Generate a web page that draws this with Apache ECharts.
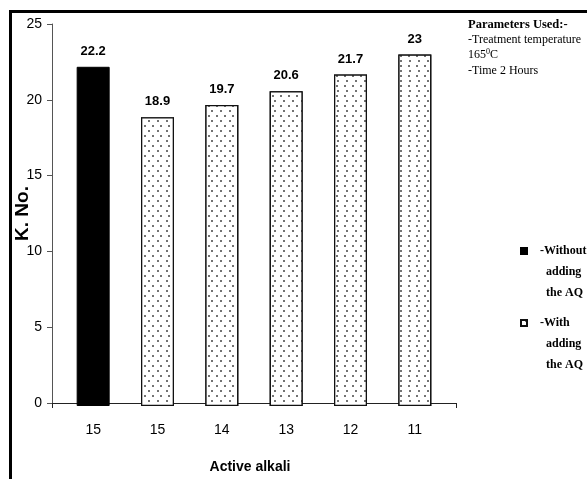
<!DOCTYPE html>
<html>
<head>
<meta charset="utf-8">
<script src="https://cdn.jsdelivr.net/npm/echarts@6/dist/echarts.min.js"></script>
<style>
  html, body { margin: 0; padding: 0; background: #fff; }
  #chart { width: 587px; height: 479px; }
</style>
</head>
<body>
<div id="chart"></div>
<script>
// Kappa number vs. active alkali charge
const categories = ['15', '15', '14', '13', '12', '11'];
const withoutAQ = [22.2, null, null, null, null, null];
const withAQ = [null, 18.9, 19.7, 20.6, 21.7, 23];
const yTicks = { min: 0, max: 25, interval: 5 };

const SANS = '"Liberation Sans Narrow", "Arial Narrow", "Liberation Sans", Arial, sans-serif';
const SERIF = '"Liberation Serif", "Times New Roman", serif';

const chart = echarts.init(document.getElementById('chart'), null, { renderer: 'canvas' });

const valueLabel = {
  show: true,
  position: 'top',
  distance: 9,
  fontFamily: SANS,
  fontWeight: 'bold',
  fontSize: 13,
  color: '#000'
};

// Legend text: two blank lead lines keep the first text line level with the swatch
const legendBase = {
  orient: 'vertical',
  left: 520,
  padding: 0,
  icon: 'rect',
  itemWidth: 6,
  itemHeight: 6,
  selectedMode: false,
  textStyle: {
    fontFamily: SERIF,
    fontWeight: 'bold',
    fontSize: 12,
    color: '#000',
    lineHeight: 21,
    padding: [0, 0, 0, 8]
  }
};

chart.setOption({
  animation: false,
  backgroundColor: '#fff',
  title: {
    left: 468,
    top: 17,
    padding: 0,
    text: '{b|Parameters Used:-}\n{r|-Treatment temperature}\n{r|165}{s|0}{r|C}\n{r|-Time 2 Hours}',
    textStyle: {
      rich: {
        b: { fontFamily: SERIF, fontWeight: 'bold', fontSize: 12.5, color: '#000', lineHeight: 15 },
        r: { fontFamily: SERIF, fontWeight: 'normal', fontSize: 12, color: '#000', lineHeight: 15.5 },
        s: { fontFamily: SERIF, fontWeight: 'normal', fontSize: 8, color: '#000', lineHeight: 15.5, verticalAlign: 'top', padding: [0, 0, 6, 0] }
      }
    }
  },
  legend: [
    Object.assign({}, legendBase, {
      top: 198.5,
      data: ['Without adding the AQ'],
      formatter: () => '\n\n-Without\n  adding\n  the AQ'
    }),
    Object.assign({}, legendBase, {
      top: 270.5,
      data: ['With adding the AQ'],
      formatter: () => '\n\n-With\n  adding\n  the AQ'
    })
  ],
  grid: [
    // axis frame
    { left: 52, right: 131, top: 24, bottom: 73 },
    // bar area (categories inset from the axis ends)
    { left: 61, right: 140, top: 24, bottom: 73 }
  ],
  xAxis: [
    {
      gridIndex: 0,
      type: 'value',
      min: 0,
      max: 1,
      interval: 1,
      axisLine: { show: true, lineStyle: { color: '#222', width: 1 } },
      axisTick: { show: true, length: 5, lineStyle: { color: '#222' } },
      axisLabel: { show: false },
      splitLine: { show: false },
      name: 'Active alkali',
      nameLocation: 'middle',
      nameGap: 57,
      nameMoveOverlap: false,
      nameTextStyle: { fontFamily: SANS, fontWeight: 'bold', fontSize: 14, color: '#000', padding: [0, 8, 0, 0] }
    },
    {
      gridIndex: 1,
      type: 'category',
      data: categories,
      axisLine: { show: false },
      axisTick: { show: false },
      axisLabel: { margin: 17, fontFamily: SANS, fontSize: 14, color: '#000' }
    }
  ],
  yAxis: [
    {
      gridIndex: 0,
      type: 'value',
      min: yTicks.min,
      max: yTicks.max,
      interval: yTicks.interval,
      axisLine: { show: true, lineStyle: { color: '#555', width: 1 } },
      axisTick: { show: true, length: 5, inside: false, lineStyle: { color: '#555' } },
      axisLabel: { margin: 10, fontFamily: SANS, fontSize: 14, color: '#000' },
      splitLine: { show: false },
      name: 'K. No.',
      nameLocation: 'middle',
      nameRotate: 90,
      nameGap: 20,
      nameMoveOverlap: false,
      nameTextStyle: { fontFamily: SANS, fontWeight: 'bold', fontSize: 19, color: '#000' }
    },
    {
      gridIndex: 1,
      type: 'value',
      min: yTicks.min,
      max: yTicks.max,
      interval: yTicks.interval,
      show: false
    }
  ],
  series: [
    {
      name: 'Without adding the AQ',
      type: 'bar',
      xAxisIndex: 1,
      yAxisIndex: 1,
      barWidth: 33,
      barGap: '-100%',
      data: withoutAQ,
      itemStyle: { color: '#000', borderColor: '#000', borderWidth: 1 },
      label: valueLabel
    },
    {
      name: 'With adding the AQ',
      type: 'bar',
      xAxisIndex: 1,
      yAxisIndex: 1,
      barWidth: 33,
      barGap: '-100%',
      data: withAQ,
      itemStyle: {
        color: '#fff',
        borderColor: '#111',
        borderWidth: 1.3,
        decal: {
          symbol: 'circle',
          symbolSize: 1,
          color: '#444',
          backgroundColor: '#fff',
          dashArrayX: [[1.5, 6], [0, 3.75, 1.5, 2.25]],
          dashArrayY: [1.5, 2.35],
          rotation: 0
        }
      },
      label: valueLabel
    }
  ],
  graphic: [
    // outer frame (left and top edges)
    { type: 'line', shape: { x1: 10.5, y1: 10, x2: 10.5, y2: 479 }, style: { stroke: '#000', lineWidth: 3 } },
    { type: 'line', shape: { x1: 9, y1: 11.5, x2: 587, y2: 11.5 }, style: { stroke: '#000', lineWidth: 3 } }
  ]
});
</script>
</body>
</html>
